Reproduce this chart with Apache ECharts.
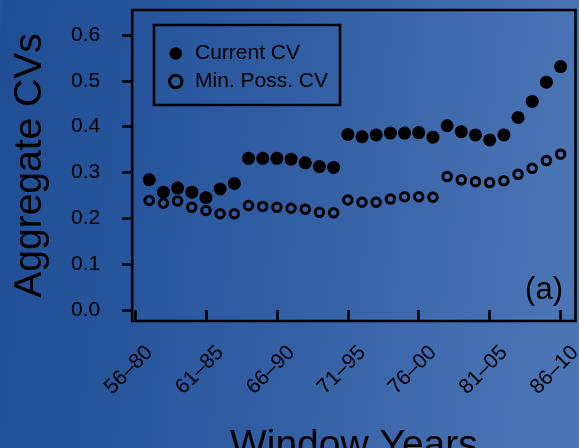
<!DOCTYPE html>
<html>
<head>
<meta charset="utf-8">
<script src="https://cdn.jsdelivr.net/npm/echarts@6/dist/echarts.min.js"></script>
<style>html,body{margin:0;padding:0;}#c{width:579px;height:448px;}</style>
</head>
<body>
<div id="c"></div>
<script>
// Window start years (window = start .. start+24)
const windowStart = [57,58,59,60,61,62,63,64,65,66,67,68,69,70,71,72,73,74,75,76,77,78,79,80,81,82,83,84,85,86];
const currentCV = [0.284,0.257,0.266,0.257,0.245,0.264,0.276,0.331,0.331,0.331,0.329,0.321,0.313,0.311,0.383,0.378,0.382,0.386,0.386,0.387,0.377,0.402,0.389,0.382,0.371,0.382,0.420,0.455,0.497,0.531];
const minPossCV = [0.239,0.233,0.238,0.224,0.217,0.210,0.210,0.228,0.226,0.224,0.222,0.220,0.213,0.212,0.240,0.235,0.235,0.242,0.247,0.247,0.246,0.291,0.284,0.280,0.278,0.282,0.296,0.309,0.326,0.340];
const tickYears = [56,61,66,71,76,81,86];
const tickLabels = ['56\u201380','61\u201385','66\u201390','71\u201395','76\u201300','81\u201305','86\u201310'];
const yTicks = [0,0.1,0.2,0.3,0.4,0.5,0.6];
const yTickLabels = ['0.0','0.1','0.2','0.3','0.4','0.5','0.6'];

const FONT = 'Liberation Sans, Arial, Helvetica, sans-serif';
const chart = echarts.init(document.getElementById('c'), null, {renderer:'canvas'});
const option = {
  animation: false,
  backgroundColor: {type:'linear', x:0, y:0, x2:1, y2:0.15, colorStops:[
    {offset:0, color:'#2658a0'}, {offset:0.008, color:'#1f4e95'}, {offset:0.5, color:'#305da2'}, {offset:1, color:'#4b74b5'}]},
  textStyle: {fontFamily: FONT},
  grid: {left:132.2, right:3.5, top:10, bottom:127, show:true, borderColor:'#000', borderWidth:2.6,
         backgroundColor:'transparent', containLabel:false, outerBoundsMode:'none'},
  legend: {
    orient:'vertical', left:154, top:25,
    borderColor:'#000', borderWidth:2.6,
    padding:[18,12,13,14],
    itemGap:7, itemWidth:12.5, itemHeight:12.5,
    textStyle:{fontSize:21, color:'#000', fontFamily:FONT, padding:[0,0,0,8]},
    data:[
      {name:'Current CV', icon:'circle', itemStyle:{color:'#000', borderWidth:0}},
      {name:'Min. Poss. CV', icon:'circle', itemStyle:{color:'transparent', borderColor:'#000', borderWidth:3}}
    ]
  },
  xAxis: {
    type:'value', min:55.8, max:87.05,
    name:'Window Years', nameLocation:'middle', nameGap:106,
    nameTextStyle:{fontSize:39, color:'#000', fontFamily:FONT},
    axisLine:{show:false},
    splitLine:{show:false},
    axisTick:{show:true, length:10, customValues:tickYears, lineStyle:{color:'#000', width:2.6}},
    axisLabel:{show:true, customValues:tickYears, rotate:45, margin:14, fontSize:21, color:'#000', fontFamily:FONT,
      verticalAlign:'top', padding:[10,0,0,0],
      formatter:function(v){ const i = tickYears.indexOf(Math.round(v)); return i>=0 ? tickLabels[i] : ''; }}
  },
  yAxis: {
    type:'value', min:-0.024, max:0.6545,
    name:'Aggregate CVs', nameLocation:'middle', nameGap:82, nameRotate:90,
    nameTextStyle:{fontSize:39, color:'#000', fontFamily:FONT},
    axisLine:{show:false},
    splitLine:{show:false},
    axisTick:{show:true, length:10, customValues:yTicks, lineStyle:{color:'#000', width:2.6}},
    axisLabel:{show:true, customValues:yTicks, margin:32, fontSize:21, color:'#000', fontFamily:FONT,
      formatter:function(v){ const i = yTicks.findIndex(t=>Math.abs(t-v)<1e-9); return i>=0 ? yTickLabels[i] : ''; }}
  },
  graphic: [
    {type:'text', right:16, top:275, style:{text:'(a)', fontSize:31, fill:'#000', fontFamily:FONT}}
  ],
  series: [
    {name:'Current CV', type:'scatter', symbol:'circle', symbolSize:13,
     itemStyle:{color:'#000', opacity:1},
     data: windowStart.map((x,i)=>[x, currentCV[i]])},
    {name:'Min. Poss. CV', type:'scatter', symbol:'circle', symbolSize:8.5,
     itemStyle:{color:'transparent', borderColor:'#000', borderWidth:3, opacity:1},
     data: windowStart.map((x,i)=>[x, minPossCV[i]])}
  ]
};
chart.setOption(option);
</script>
</body>
</html>
